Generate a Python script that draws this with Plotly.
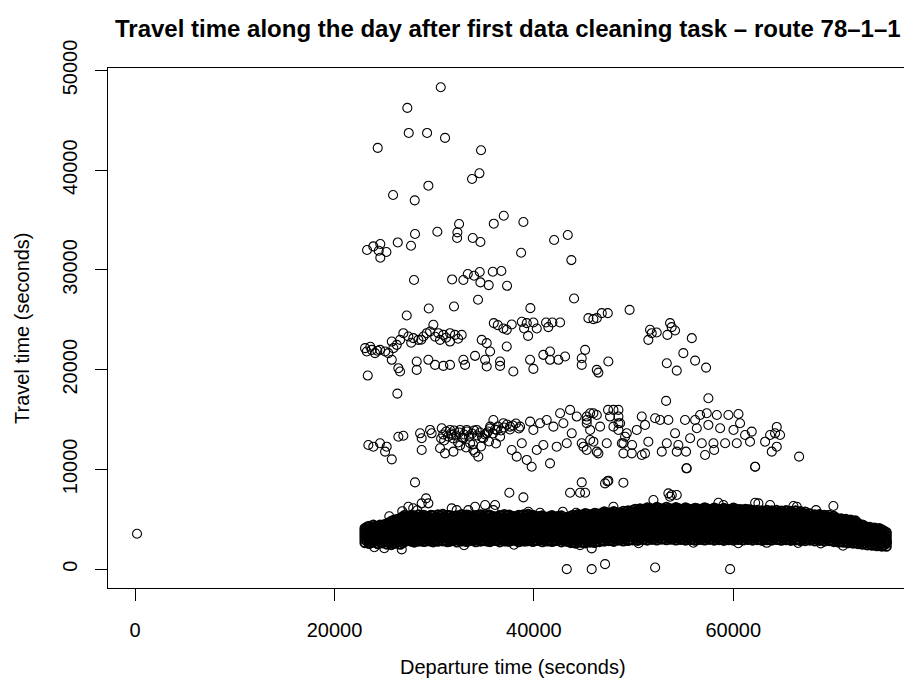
import plotly.graph_objects as go

# ---------------- tick labels ----------------
x_ticks = [0, 20000, 40000, 60000]
x_tick_text = ["0", "20000", "40000", "60000"]
y_ticks = [0, 10000, 20000, 30000, 40000, 50000]
y_tick_text = ["0", "10000", "20000", "30000", "40000", "50000"]

# ---------------- scattered trips (departure, travel time) ----------------
high_x = [30660, 27310, 27450, 29290, 31090, 24340, 34700, 34540, 33800, 29420,
          25880, 28050, 36980, 35980, 38950, 32500, 32330, 32300, 30320, 28080,
          33870, 34640, 26350, 27680, 23270, 23900, 24600, 24440, 25210, 24600,
          42030, 43400, 38720, 43760, 27980, 31800, 32930, 33370, 34000, 34570,
          34640, 35470, 35880, 36740, 37310, 34400, 44030, 27250, 29460, 31990,
          39650, 49600]
high_y = [48320, 46250, 43740, 43740, 43240, 42240, 42000, 39690, 39120, 38450,
          37520, 36980, 35440, 34640, 34810, 34610, 33770, 33200, 33830, 33600,
          33200, 32800, 32760, 32430, 32000, 32360, 32600, 31930, 31800, 31230,
          33000, 33500, 31730, 30990, 28990, 29050, 28990, 29590, 29420, 29790,
          28750, 28480, 29820, 29890, 28410, 27010, 27140, 25430, 26130, 26340,
          26170, 26000]

band24_x = [35980, 36380, 36940, 37280, 37780, 38790, 39290, 39020, 39420, 39950,
            40290, 41220, 41450, 41860, 42630, 45470, 45970, 46310, 46810, 47410,
            51650, 51480, 51820, 52320, 53660, 53820, 54160, 53390, 55840]
band24_y = [24670, 24470, 24130, 24000, 24530, 24800, 24670, 24130, 23390, 24730,
            24130, 24730, 24270, 24730, 24730, 25170, 25070, 25170, 25670, 25670,
            24000, 22990, 23660, 23730, 24670, 24270, 23930, 23490, 23160]

band22_x = [23070, 23240, 23740, 24070, 24570, 25080, 25410, 25910, 25750, 26250,
            26580, 26910, 27410, 27910, 28420, 28920, 29250, 29590, 29920, 30420,
            30920, 31590, 32090, 32760, 30590, 31590, 25750, 26410, 26580, 28250,
            28250, 29420, 30090, 30920, 31590, 32930, 33100, 34100, 34770, 35270,
            35610, 35110, 35270, 36610, 36610, 37280, 37940, 39620, 39950, 40950,
            41620, 41620, 42460, 43130, 44800, 45140, 44800, 46310, 46470, 47470,
            23340, 26310, 54990, 56170, 53330, 54330, 57270, 27700, 28700, 30100,
            31200, 32400, 24300, 23600]
band22_y = [22160, 21820, 21990, 21660, 21990, 21820, 21660, 22160, 22820, 22490,
            22990, 23660, 23330, 23160, 22990, 23330, 23660, 23830, 24500, 23660,
            23490, 23660, 23490, 23490, 22990, 22820, 20990, 20150, 19820, 20820,
            19980, 20990, 20480, 20380, 20480, 20990, 20480, 21390, 22990, 22660,
            21820, 20990, 20320, 20820, 20380, 22320, 19820, 20990, 20080, 21490,
            21820, 20990, 20990, 21320, 21150, 21990, 20480, 19980, 19710, 20820,
            19410, 17600, 21660, 20910, 20650, 19910, 20210, 22700, 23000, 23300,
            23200, 23100, 21900, 22300]

band13_x = [23400, 23900, 24570, 25240, 25080, 25750, 26410, 26910, 28590, 28750,
            28750, 29590, 29750, 30760, 30590, 31090, 31590, 31930, 31760, 32600,
            32930, 33270, 33600, 33930, 34270, 34430, 34930, 35270, 35610, 35940,
            36280, 36610, 36940, 37610, 37780, 38280, 38620, 38790, 39290, 39620,
            39950, 39780, 40290, 40620, 40950, 41290, 41620, 41960, 42290, 42630,
            42960, 43300, 43630, 43800, 44300, 44970, 45300, 45640, 45970, 46310,
            46640, 47310, 47640, 47980, 48650, 48980, 49320,
            30900, 31200, 31400, 31700, 32000, 32200, 32500, 32800, 33000, 33300,
            33500, 33800, 34000, 34300, 34600, 34800, 35100, 35400, 35600, 35900,
            36100, 36400, 36700, 37000, 37300, 37600, 37900, 38200, 38500, 31000,
            32400, 33900, 34700, 35500, 36200, 33200, 34100, 32600, 30700, 31900,
            45300, 45640, 46310, 45300, 45640, 44800, 45970, 45300, 46470, 47440,
            48480, 48480, 48480, 48480, 47980, 48820, 48980, 49150, 49820, 49850,
            50320, 50820, 51150, 50820, 51480, 51150, 52160, 52660, 52830, 53330,
            53490, 54160, 54490, 54330, 55160, 55260, 55330, 55670, 56170, 56340,
            56670, 56840, 57170, 57340, 57500, 58010, 58080, 58350, 58680, 59180,
            59510, 60020, 60350, 60680, 61180, 61680, 60520, 61850, 63190, 63690,
            64190, 64360, 64690, 63860, 64360, 62190, 66600, 53260, 57500]
band13_y = [12450, 12280, 12620, 12280, 11780, 11010, 13280, 13380, 13620, 13120,
            11950, 13960, 13620, 14130, 12120, 11610, 13960, 11780, 13450, 13960,
            13120, 13960, 12620, 11950, 13960, 11280, 13120, 13620, 14290, 14960,
            13960, 13280, 14630, 14290, 11950, 11280, 14290, 12620, 10950, 14790,
            13960, 10270, 11950, 14630, 12450, 14960, 10610, 14290, 12280, 15630,
            14630, 12620, 15970, 13620, 15300, 12280, 14960, 12950, 15630, 11780,
            14290, 12620, 15300, 15970, 14630, 12620, 13620,
            13500, 13800, 13300, 13600, 13900, 13400, 13700, 13200, 13500, 13800,
            13300, 13600, 13900, 13400, 13700, 13200, 13500, 13800, 14100, 13600,
            14000, 14300, 13900, 14200, 14500, 14000, 14400, 14600, 14100, 12900,
            12700, 12500, 12300, 12800, 12600, 12200, 11700, 12400, 13100, 13100,
            15300, 15630, 15460, 14630, 13960, 12620, 12780, 11950, 11610, 15970,
            15970, 15300, 14630, 13960, 14290, 12620, 11610, 13280, 11610, 12450,
            13960, 15300, 14460, 11450, 12780, 11610, 15130, 14960, 11780, 12620,
            14960, 13620, 12450, 11780, 14960, 11780, 10110, 13120, 14960, 14130,
            15460, 12620, 11450, 15630, 14460, 12620, 11950, 15460, 14130, 12620,
            15460, 13960, 12620, 14630, 13450, 12780, 15560, 13790, 12780, 13450,
            13620, 14260, 13450, 11780, 12280, 10270, 11280, 16870, 17140]

mid_x = [28080, 37540, 38950, 43630, 44630, 45140, 44800, 47140, 47380, 47470,
         48980, 55300, 62190]
mid_y = [8700, 7660, 7200, 7660, 7660, 7660, 8700, 8600, 8800, 8870,
         8670, 10110, 10270]

halo_x = [53490, 53830, 54330, 53660, 51990, 47980, 58510, 59010, 62190, 62520,
          63690, 66030, 66370, 68300, 70040, 72550, 74890, 75400, 27410, 29190,
          28750, 29420, 31760, 32260, 34100, 35110, 36110, 33430, 35940, 39450,
          40620, 42900, 44230, 25500, 26800, 27900, 28300,
          26750, 44630, 45800, 63350, 68770, 24000, 25000, 33000, 38000, 50500,
          56000, 60500, 66500, 71000, 200]
halo_y = [7600, 7430, 7430, 7260, 6930, 6250, 6660, 6430, 6660, 6600,
          6430, 6330, 6250, 5920, 6330, 4590, 3920, 2740, 6250, 7100,
          6600, 6600, 6090, 5920, 6250, 6430, 6430, 5920, 5920, 5750,
          5650, 5750, 5650, 5300, 5800, 6100, 5900,
          1980, 2410, 2080, 2640, 2580, 2200, 2100, 2400, 2450, 2600,
          2650, 2600, 2620, 2350, 3550]

zero_x = [43300, 45800, 47140, 52160, 59680]
zero_y = [0, 0, 500, 170, 0]

# ---------------- dense main band, read column by column ----------------
band_x = [
    23050, 23480, 23900, 24350, 24800, 25250,
    25700, 26150, 26600,
    27050, 27520, 28010, 28470, 28950, 29440, 29900, 30380, 30870, 31330,
    31800, 32290, 32760, 33240, 33700, 34180, 34660, 35130, 35600, 36090,
    36570, 37040, 37520, 38000, 38470, 38950, 39430, 39900,
    40380, 40860, 41330, 41810, 42290, 42760, 43240, 43720, 44190, 44670,
    45150, 45620, 46100, 46580,
    47060, 47540, 48010, 48490, 48970, 49450,
    49930, 50410, 50890, 51370, 51850, 52330, 52810, 53290, 53770, 54250,
    54730, 55210, 55690, 56170, 56650, 57130, 57610, 58090, 58570, 59050,
    59530, 60010, 60490, 60970, 61450,
    61930, 62410, 62890, 63370, 63850, 64330, 64810, 65290, 65770, 66250, 66730,
    67210, 67690, 68170, 68650, 69130, 69610,
    70090, 70570, 71050, 71530, 72010,
    72490, 72970, 73450, 73930, 74410, 74890, 75350,
]
band_y = [
    [2650, 2980, 3280, 3550, 3820, 4080],
    [2560, 2870, 3170, 3460, 3760, 4040, 4300],
    [2700, 3010, 3330, 3610, 3900, 4170, 4420],
    [2540, 2850, 3150, 3440, 3720, 4010, 4290],
    [2620, 2930, 3240, 3520, 3810, 4100, 4380],
    [2500, 2810, 3120, 3420, 3700, 3990, 4270, 4520],
    [2450, 2760, 3060, 3370, 3650, 3950, 4240, 4530, 4800],
    [2600, 2900, 3210, 3500, 3800, 4080, 4370, 4660, 4950],
    [2480, 2790, 3100, 3390, 3690, 3980, 4280, 4570, 4870, 5100],
    [2750, 3060, 3360, 3650, 3950, 4240, 4540, 4830, 5120, 5400],
    [2850, 3150, 3460, 3760, 4050, 4350, 4640, 4940, 5250],
    [2700, 3000, 3300, 3600, 3890, 4190, 4480, 4780, 5070, 5360],
    [2800, 3110, 3410, 3700, 4000, 4290, 4590, 4890, 5180, 5470],
    [2760, 3070, 3380, 3670, 3970, 4260, 4560, 4850, 5150, 5420],
    [2880, 3180, 3480, 3780, 4070, 4370, 4660, 4960, 5260],
    [2720, 3020, 3320, 3620, 3910, 4210, 4500, 4800, 5090, 5380],
    [2790, 3100, 3400, 3690, 3990, 4280, 4580, 4880, 5170, 5450],
    [2830, 3140, 3440, 3740, 4030, 4330, 4620, 4920, 5210, 5500],
    [2740, 3040, 3340, 3640, 3940, 4230, 4530, 4820, 5110, 5390],
    [2860, 3160, 3470, 3770, 4060, 4360, 4650, 4950, 5240],
    [2710, 3010, 3310, 3610, 3900, 4200, 4490, 4790, 5080, 5370],
    [2810, 3120, 3420, 3710, 4010, 4300, 4600, 4900, 5190, 5480],
    [2770, 3080, 3390, 3680, 3980, 4270, 4570, 4860, 5160, 5430],
    [2890, 3190, 3490, 3790, 4080, 4380, 4670, 4970, 5270],
    [2730, 3030, 3330, 3630, 3920, 4220, 4510, 4810, 5100, 5390],
    [2800, 3100, 3400, 3700, 4000, 4290, 4590, 4880, 5180, 5460],
    [2840, 3150, 3450, 3750, 4040, 4340, 4630, 4930, 5220, 5510],
    [2750, 3050, 3350, 3650, 3950, 4240, 4540, 4830, 5120, 5400],
    [2870, 3170, 3480, 3780, 4070, 4370, 4660, 4960, 5250],
    [2720, 3020, 3320, 3620, 3920, 4210, 4510, 4800, 5100, 5380],
    [2820, 3130, 3430, 3720, 4020, 4310, 4610, 4910, 5200, 5490],
    [2780, 3090, 3400, 3690, 3990, 4280, 4580, 4870, 5170, 5440],
    [2900, 3200, 3500, 3800, 4090, 4390, 4680, 4980, 5280],
    [2740, 3040, 3340, 3640, 3930, 4230, 4520, 4820, 5110, 5400],
    [2810, 3110, 3410, 3710, 4010, 4300, 4600, 4890, 5190, 5470],
    [2850, 3160, 3460, 3760, 4050, 4350, 4640, 4940, 5230, 5500],
    [2760, 3060, 3360, 3660, 3960, 4250, 4550, 4840, 5130, 5410],
    [2880, 3180, 3490, 3790, 4080, 4380, 4670, 4970, 5260],
    [2730, 3030, 3330, 3630, 3930, 4220, 4520, 4810, 5100, 5360],
    [2820, 3120, 3420, 3720, 4020, 4310, 4610, 4900, 5190],
    [2770, 3080, 3380, 3680, 3980, 4270, 4570, 4860, 5150, 5380],
    [2890, 3190, 3500, 3800, 4090, 4390, 4680, 4980, 5270],
    [2720, 3020, 3320, 3620, 3920, 4210, 4510, 4800, 5090, 5350],
    [2800, 3110, 3410, 3710, 4000, 4300, 4590, 4890, 5180],
    [2650, 2960, 3270, 3570, 3870, 4160, 4460, 4750, 5050, 5330],
    [2600, 2910, 3220, 3520, 3820, 4110, 4410, 4700, 5000, 5290],
    [2680, 2990, 3300, 3600, 3900, 4190, 4490, 4780, 5080, 5370],
    [2620, 2930, 3240, 3540, 3840, 4130, 4430, 4720, 5020, 5320, 5580],
    [2700, 3010, 3320, 3620, 3920, 4210, 4510, 4800, 5100, 5400],
    [2660, 2970, 3280, 3580, 3880, 4170, 4470, 4760, 5060, 5360, 5620],
    [2750, 3060, 3370, 3670, 3970, 4260, 4560, 4850, 5150, 5450],
    [2800, 3110, 3420, 3720, 4020, 4310, 4610, 4900, 5200, 5500, 5760],
    [2850, 3160, 3470, 3770, 4070, 4360, 4660, 4950, 5250, 5550],
    [2780, 3090, 3400, 3700, 4000, 4290, 4590, 4880, 5180, 5480, 5780],
    [2900, 3210, 3520, 3820, 4120, 4410, 4710, 5000, 5300, 5600],
    [2820, 3130, 3440, 3740, 4040, 4330, 4630, 4920, 5220, 5520, 5820],
    [2870, 3180, 3490, 3790, 4090, 4380, 4680, 4970, 5270, 5570, 5860],
    [2930, 3240, 3550, 3850, 4150, 4440, 4740, 5030, 5330, 5630, 5920],
    [2880, 3190, 3500, 3800, 4100, 4390, 4690, 4980, 5280, 5580, 5880],
    [2960, 3270, 3580, 3880, 4180, 4470, 4770, 5060, 5360, 5660, 5960],
    [2900, 3210, 3520, 3820, 4120, 4410, 4710, 5000, 5300, 5600, 5900, 6150],
    [2980, 3290, 3600, 3900, 4200, 4490, 4790, 5080, 5380, 5680, 5980],
    [2920, 3230, 3540, 3840, 4140, 4430, 4730, 5020, 5320, 5620, 5920, 6200],
    [3000, 3310, 3620, 3920, 4220, 4510, 4810, 5100, 5400, 5700, 6000],
    [2940, 3250, 3560, 3860, 4160, 4450, 4750, 5040, 5340, 5640, 5940, 6220],
    [2990, 3300, 3610, 3910, 4210, 4500, 4800, 5090, 5390, 5690, 5990],
    [2910, 3220, 3530, 3830, 4130, 4420, 4720, 5010, 5310, 5610, 5910, 6180],
    [2970, 3280, 3590, 3890, 4190, 4480, 4780, 5070, 5370, 5670, 5970],
    [2900, 3210, 3520, 3820, 4120, 4410, 4710, 5000, 5300, 5600, 5900, 6150],
    [2950, 3260, 3570, 3870, 4170, 4460, 4760, 5050, 5350, 5650, 5950],
    [2890, 3200, 3510, 3810, 4110, 4400, 4700, 4990, 5290, 5590, 5890, 6120],
    [2960, 3270, 3580, 3880, 4180, 4470, 4770, 5060, 5360, 5660, 5960],
    [2920, 3230, 3540, 3840, 4140, 4430, 4730, 5020, 5320, 5620, 5920, 6170],
    [2980, 3290, 3600, 3900, 4200, 4490, 4790, 5080, 5380, 5680, 5970],
    [2900, 3210, 3520, 3820, 4120, 4410, 4710, 5000, 5300, 5600, 5900, 6140],
    [2950, 3260, 3570, 3870, 4170, 4460, 4760, 5050, 5350, 5650, 5950],
    [2880, 3190, 3500, 3800, 4100, 4390, 4690, 4980, 5280, 5580, 5880, 6100],
    [2940, 3250, 3560, 3860, 4160, 4450, 4750, 5040, 5340, 5640, 5930],
    [2900, 3210, 3520, 3820, 4120, 4410, 4710, 5000, 5300, 5600, 5900, 6130],
    [2960, 3270, 3580, 3880, 4180, 4470, 4770, 5060, 5360, 5660, 5950],
    [2910, 3220, 3530, 3830, 4130, 4420, 4720, 5010, 5310, 5610, 5900],
    [2970, 3280, 3590, 3890, 4190, 4480, 4780, 5070, 5370, 5670, 5960],
    [2900, 3210, 3520, 3820, 4120, 4410, 4710, 5000, 5300, 5600, 5880],
    [2950, 3260, 3570, 3870, 4170, 4460, 4760, 5050, 5350, 5650, 5920],
    [2880, 3190, 3500, 3800, 4100, 4390, 4690, 4980, 5280, 5580, 5860],
    [2940, 3250, 3560, 3860, 4160, 4450, 4750, 5040, 5340, 5640, 5900],
    [2900, 3210, 3520, 3820, 4120, 4410, 4710, 5000, 5300, 5590, 5850],
    [2960, 3270, 3580, 3880, 4180, 4470, 4770, 5060, 5360, 5650, 5900],
    [2890, 3200, 3510, 3810, 4110, 4400, 4700, 4990, 5290, 5580, 5830],
    [2940, 3250, 3560, 3860, 4160, 4450, 4750, 5040, 5340, 5630, 5880],
    [2880, 3190, 3500, 3800, 4100, 4390, 4690, 4980, 5280, 5560, 5800],
    [2930, 3240, 3550, 3850, 4150, 4440, 4740, 5030, 5330, 5610, 5850],
    [2870, 3180, 3490, 3790, 4090, 4380, 4680, 4970, 5260, 5540, 5780],
    [2850, 3160, 3470, 3770, 4070, 4360, 4660, 4950, 5240, 5520, 5740],
    [2900, 3210, 3520, 3820, 4120, 4410, 4710, 5000, 5280, 5550],
    [2830, 3140, 3450, 3750, 4050, 4340, 4640, 4930, 5210, 5470],
    [2880, 3190, 3500, 3800, 4100, 4390, 4690, 4970, 5240, 5480],
    [2800, 3110, 3420, 3720, 4020, 4310, 4610, 4890, 5160, 5400],
    [2850, 3160, 3470, 3770, 4070, 4360, 4650, 4930, 5190, 5420],
    [2750, 3060, 3370, 3670, 3970, 4260, 4550, 4830, 5080, 5300],
    [2700, 3010, 3320, 3620, 3920, 4210, 4490, 4760, 5010],
    [2680, 2990, 3300, 3600, 3900, 4180, 4460, 4720, 4950],
    [2640, 2950, 3260, 3560, 3850, 4130, 4400, 4650, 4880],
    [2600, 2910, 3220, 3520, 3810, 4090, 4350, 4600, 4820],
    [2550, 2850, 3150, 3450, 3740, 4020, 4280, 4520],
    [2480, 2780, 3080, 3380, 3670, 3950, 4210, 4440],
    [2420, 2720, 3020, 3310, 3600, 3880, 4130],
    [2380, 2680, 2980, 3270, 3550, 3820, 4060],
    [2340, 2640, 2940, 3230, 3510, 3780, 4000],
    [2300, 2600, 2900, 3190, 3470, 3740, 3950],
    [2280, 2580, 2870, 3150, 3420, 3680],
]

# second pass of the dense band (trips lying between the columns above)
band2_x = [
    23265, 23690, 24125, 24575, 25025, 25475, 25925, 26375, 26825,
    27285, 27765, 28240, 28710, 29195, 29670, 30140, 30625, 31100, 31565,
    32045, 32525, 33000, 33470, 33940, 34420, 34895, 35365, 35845, 36330,
    36805, 37280, 37760, 38235, 38710, 39190, 39665, 40140,
    40620, 41095, 41570, 42050, 42525, 43000, 43480, 43955, 44430, 44910,
    45385, 45860, 46340, 46820,
    47300, 47775, 48250, 48730, 49210, 49690,
    50170, 50650, 51130, 51610, 52090, 52570, 53050, 53530, 54010, 54490,
    54970, 55450, 55930, 56410, 56890, 57370, 57850, 58330, 58810, 59290,
    59770, 60250, 60730, 61210, 61690,
    62170, 62650, 63130, 63610, 64090, 64570, 65050, 65530, 66010, 66490, 66970,
    67450, 67930, 68410, 68890, 69370, 69850,
    70330, 70810, 71290, 71770, 72250,
    72730, 73210, 73690, 74170, 74650, 75120,
]
band2_y = [
    [2800, 3120, 3420, 3700, 3960, 4220],
    [2720, 3020, 3320, 3610, 3900, 4180],
    [2860, 3170, 3480, 3760, 4040, 4300],
    [2700, 3000, 3300, 3590, 3870, 4150, 4420],
    [2770, 3080, 3380, 3670, 3950, 4240, 4480],
    [2650, 2960, 3270, 3570, 3850, 4140, 4400, 4660],
    [2600, 2910, 3210, 3520, 3800, 4100, 4390, 4680, 4900],
    [2750, 3050, 3360, 3650, 3950, 4230, 4520, 4810, 5020],
    [2630, 2940, 3250, 3540, 3840, 4130, 4430, 4720, 5020, 5250],
    [2900, 3210, 3510, 3800, 4100, 4390, 4690, 4980, 5270],
    [2780, 3000, 3300, 3610, 3900, 4200, 4490, 4790, 5090, 5380],
    [2850, 3150, 3450, 3750, 4040, 4340, 4630, 4930, 5220],
    [2930, 3260, 3560, 3850, 4150, 4440, 4740, 5030, 5330],
    [2820, 3220, 3530, 3820, 4120, 4410, 4710, 5000, 5300],
    [2800, 3030, 3330, 3630, 3920, 4220, 4510, 4810, 5110, 5400],
    [2870, 3170, 3470, 3770, 4060, 4360, 4650, 4950, 5240],
    [2950, 3290, 3590, 3890, 4180, 4480, 4770, 5070, 5360],
    [2890, 3190, 3490, 3790, 4080, 4380, 4670, 4970, 5260],
    [2790, 3010, 3310, 3610, 3910, 4210, 4500, 4800, 5090, 5390],
    [2930, 3240, 3540, 3840, 4130, 4430, 4720, 5020, 5310],
    [2860, 3160, 3460, 3760, 4050, 4350, 4640, 4940, 5230],
    [2920, 3270, 3570, 3860, 4160, 4450, 4750, 5040, 5340],
    [2830, 3040, 3340, 3640, 3930, 4230, 4520, 4820, 5110, 5400],
    [2880, 3180, 3480, 3780, 4070, 4370, 4660, 4960, 5250],
    [2950, 3250, 3550, 3850, 4140, 4440, 4730, 5030, 5320],
    [2870, 3230, 3530, 3830, 4120, 4420, 4710, 5010, 5300],
    [2800, 3000, 3300, 3600, 3900, 4190, 4490, 4780, 5080, 5370],
    [2910, 3210, 3510, 3810, 4100, 4400, 4690, 4990, 5280],
    [2860, 3170, 3470, 3770, 4060, 4360, 4650, 4950, 5240],
    [2940, 3280, 3580, 3870, 4170, 4460, 4760, 5050, 5350],
    [2830, 3030, 3330, 3630, 3920, 4220, 4510, 4810, 5100, 5390],
    [2900, 3240, 3540, 3840, 4130, 4430, 4720, 5020, 5310],
    [2880, 3190, 3490, 3790, 4080, 4380, 4670, 4970, 5260],
    [2950, 3260, 3560, 3860, 4150, 4450, 4740, 5040, 5330],
    [2820, 3010, 3310, 3610, 3910, 4200, 4500, 4790, 5090, 5380],
    [2900, 3210, 3510, 3810, 4100, 4400, 4690, 4990, 5280],
    [2870, 3180, 3480, 3780, 4070, 4370, 4660, 4960, 5250],
    [2940, 3250, 3550, 3850, 4140, 4440, 4730, 5030, 5310],
    [2860, 3040, 3340, 3640, 3940, 4230, 4530, 4820, 5110],
    [2910, 3220, 3520, 3820, 4110, 4410, 4700, 5000, 5280],
    [2840, 3160, 3460, 3760, 4050, 4350, 4640, 4940, 5230],
    [2950, 3270, 3570, 3870, 4160, 4460, 4750, 5050, 5300],
    [2870, 3060, 3360, 3660, 3960, 4250, 4550, 4840, 5130],
    [2760, 3110, 3420, 3720, 4010, 4310, 4600, 4900, 5190],
    [2720, 3060, 3370, 3670, 3960, 4260, 4550, 4850, 5140, 5420],
    [2750, 3140, 3450, 3750, 4040, 4340, 4630, 4930, 5220, 5480],
    [2680, 3080, 3390, 3690, 3980, 4280, 4570, 4870, 5160, 5460],
    [2770, 3160, 3470, 3770, 4060, 4360, 4650, 4950, 5240, 5520],
    [2730, 3090, 3400, 3700, 3990, 4290, 4580, 4880, 5180, 5480],
    [2810, 3140, 3450, 3750, 4040, 4340, 4630, 4930, 5230, 5530],
    [2880, 3200, 3510, 3810, 4100, 4400, 4690, 4990, 5290, 5600],
    [2950, 3260, 3570, 3870, 4170, 4460, 4760, 5050, 5350, 5650],
    [2920, 3240, 3550, 3850, 4150, 4440, 4740, 5030, 5330, 5630],
    [2980, 3300, 3610, 3910, 4210, 4500, 4800, 5090, 5390, 5690],
    [2960, 3280, 3590, 3890, 4190, 4480, 4780, 5070, 5370, 5670],
    [3000, 3330, 3640, 3940, 4240, 4530, 4830, 5120, 5420, 5720],
    [3010, 3350, 3660, 3960, 4260, 4550, 4850, 5140, 5440, 5740],
    [3040, 3360, 3670, 3970, 4270, 4560, 4860, 5150, 5450, 5750, 6020],
    [3080, 3400, 3710, 4010, 4310, 4600, 4900, 5190, 5490, 5790, 6060],
    [3030, 3350, 3660, 3960, 4260, 4550, 4850, 5140, 5440, 5740, 6030],
    [3100, 3420, 3730, 4030, 4330, 4620, 4920, 5210, 5510, 5810, 6080],
    [3060, 3380, 3690, 3990, 4290, 4580, 4880, 5170, 5470, 5770, 6060],
    [3110, 3440, 3750, 4050, 4350, 4640, 4940, 5230, 5530, 5830, 6100],
    [3070, 3390, 3700, 4000, 4300, 4590, 4890, 5180, 5480, 5780, 6070],
    [3120, 3450, 3760, 4060, 4360, 4650, 4950, 5240, 5540, 5840, 6110],
    [3050, 3370, 3680, 3980, 4280, 4570, 4870, 5160, 5460, 5760, 6050],
    [3100, 3430, 3740, 4040, 4340, 4630, 4930, 5220, 5520, 5820, 6080],
    [3040, 3360, 3670, 3970, 4270, 4560, 4860, 5150, 5450, 5750, 6040],
    [3090, 3410, 3720, 4020, 4320, 4610, 4910, 5200, 5500, 5800, 6060],
    [3030, 3350, 3660, 3960, 4260, 4550, 4850, 5140, 5440, 5740, 6020],
    [3080, 3400, 3710, 4010, 4310, 4600, 4900, 5190, 5490, 5790, 6050],
    [3050, 3370, 3680, 3980, 4280, 4570, 4870, 5160, 5460, 5760, 6030],
    [3100, 3420, 3730, 4030, 4330, 4620, 4920, 5210, 5510, 5810, 6060],
    [3040, 3360, 3670, 3970, 4270, 4560, 4860, 5150, 5450, 5750, 6020],
    [3080, 3400, 3710, 4010, 4310, 4600, 4900, 5190, 5490, 5790, 6040],
    [3030, 3350, 3660, 3960, 4260, 4550, 4850, 5140, 5440, 5740, 6000],
    [3070, 3390, 3700, 4000, 4300, 4590, 4890, 5180, 5480, 5780, 6020],
    [3040, 3360, 3670, 3970, 4270, 4560, 4860, 5150, 5450, 5750, 6010],
    [3090, 3410, 3720, 4020, 4320, 4610, 4910, 5200, 5500, 5800, 6030],
    [3050, 3370, 3680, 3980, 4280, 4570, 4870, 5160, 5460, 5750, 5990],
    [3100, 3420, 3730, 4030, 4330, 4620, 4920, 5210, 5510, 5800, 6010],
    [3040, 3360, 3670, 3970, 4270, 4560, 4860, 5150, 5450, 5740, 5960],
    [3080, 3400, 3710, 4010, 4310, 4600, 4900, 5190, 5490, 5760],
    [3030, 3350, 3660, 3960, 4260, 4550, 4850, 5140, 5440, 5720],
    [3090, 3410, 3720, 4020, 4320, 4610, 4910, 5200, 5490, 5760],
    [3040, 3360, 3670, 3970, 4270, 4560, 4860, 5150, 5440, 5710],
    [3080, 3400, 3710, 4010, 4310, 4600, 4900, 5190, 5480, 5740],
    [3030, 3350, 3660, 3960, 4260, 4550, 4850, 5140, 5430, 5690],
    [3070, 3390, 3700, 4000, 4300, 4590, 4890, 5180, 5460, 5710],
    [3020, 3340, 3650, 3950, 4250, 4540, 4840, 5130, 5410, 5660],
    [3060, 3380, 3690, 3990, 4290, 4580, 4880, 5170, 5450, 5690],
    [3010, 3330, 3640, 3940, 4240, 4530, 4830, 5110, 5390, 5630],
    [3000, 3320, 3630, 3930, 4230, 4520, 4810, 5100, 5380, 5610],
    [3040, 3360, 3670, 3970, 4270, 4560, 4860, 5140, 5410],
    [2980, 3300, 3610, 3910, 4210, 4500, 4790, 5070, 5340],
    [3020, 3340, 3650, 3950, 4250, 4540, 4830, 5100, 5360],
    [2960, 3280, 3590, 3890, 4190, 4480, 4760, 5030, 5280],
    [2990, 3310, 3620, 3920, 4220, 4510, 4790, 5060, 5300],
    [2910, 3230, 3540, 3840, 4140, 4420, 4700, 4960, 5200],
    [2860, 3170, 3480, 3780, 4070, 4360, 4630, 4890, 5120],
    [2840, 3150, 3460, 3760, 4050, 4330, 4600, 4850, 5060],
    [2800, 3110, 3420, 3720, 4010, 4290, 4550, 4800, 5000],
    [2770, 3080, 3390, 3690, 3970, 4250, 4510, 4740, 4940],
    [2720, 3020, 3330, 3630, 3910, 4190, 4440, 4660, 4850],
    [2660, 2960, 3260, 3560, 3840, 4110, 4350],
    [2600, 2900, 3200, 3490, 3770, 4040, 4280],
    [2550, 2850, 3150, 3440, 3720, 3980, 4210],
    [2510, 2810, 3110, 3390, 3670, 3930, 4140],
    [2470, 2770, 3060, 3350, 3620, 3870, 4070],
    [2430, 2730, 3020, 3300, 3570, 3820],
]

# ---------------- assemble ----------------
sc_x, sc_y = [], []
for xs, ys in [(high_x, high_y), (band24_x, band24_y), (band22_x, band22_y),
               (band13_x, band13_y), (mid_x, mid_y), (halo_x, halo_y),
               (zero_x, zero_y)]:
    sc_x.extend(xs)
    sc_y.extend(ys)
dense_x, dense_y = [], []
for cols_x, cols_y in [(band_x, band_y), (band2_x, band2_y)]:
    for bx, col in zip(cols_x, cols_y):
        for v in col:
            dense_x.append(bx)
            dense_y.append(v)

FONT = "Liberation Sans, Arial, Helvetica, sans-serif"

fig = go.Figure()
# the dense band: so many overlapping rings that the ink merges
fig.add_trace(go.Scatter(
    x=dense_x, y=dense_y, mode="markers",
    marker=dict(symbol="circle-open", size=9, color="black",
                line=dict(width=1.9, color="black")),
    hoverinfo="skip", showlegend=False,
))
fig.add_trace(go.Scatter(
    x=sc_x, y=sc_y, mode="markers",
    marker=dict(symbol="circle-open", size=9, color="black",
                line=dict(width=1.1, color="black")),
    hoverinfo="skip", showlegend=False,
))

L, R, T, B = 108, 0, 68, 99
W, H = 904, 687
pw = W - L - R
ph = H - T - B

def px_x(p):
    return (p - L) / pw

def px_y(p):
    return (H - B - p) / ph

fig.update_layout(
    width=W, height=H,
    margin=dict(l=L, r=R, t=T, b=B, pad=0),
    paper_bgcolor="white", plot_bgcolor="white",
    font=dict(family=FONT, color="black", size=20),
    showlegend=False,
    xaxis=dict(range=[-2710, 77120], tickmode="array", tickvals=x_ticks,
               ticktext=x_tick_text, ticks="outside", ticklen=12, tickwidth=1,
               tickcolor="black", showline=True, linecolor="black", linewidth=1,
               mirror=True, showgrid=False, zeroline=False,
               tickfont=dict(size=20, family=FONT, color="black"),
               ticklabelstandoff=12),
    yaxis=dict(range=[-1890, 50250], tickmode="array", tickvals=y_ticks,
               ticktext=y_tick_text, tickangle=-90, ticks="outside", ticklen=12,
               tickwidth=1, tickcolor="black", showline=True, linecolor="black",
               linewidth=1, mirror=False, showgrid=False, zeroline=False,
               tickfont=dict(size=20, family=FONT, color="black"),
               ticklabelstandoff=10),
    annotations=[
        dict(text="<b>Travel time along the day after first data cleaning task \u2013 route 78\u20131\u20131</b>",
             xref="paper", yref="paper", x=px_x(508), y=px_y(28),
             xanchor="center", yanchor="middle", showarrow=False,
             font=dict(size=24, family=FONT, color="black")),
        dict(text="Departure time (seconds)", xref="paper", yref="paper",
             x=px_x(513), y=px_y(667), xanchor="center", yanchor="middle",
             showarrow=False, font=dict(size=20, family=FONT, color="black")),
        dict(text="Travel time (seconds)", xref="paper", yref="paper",
             x=px_x(22), y=px_y(328), xanchor="center", yanchor="middle",
             textangle=-90, showarrow=False,
             font=dict(size=20, family=FONT, color="black")),
    ],
)

fig.write_html("out.html")
